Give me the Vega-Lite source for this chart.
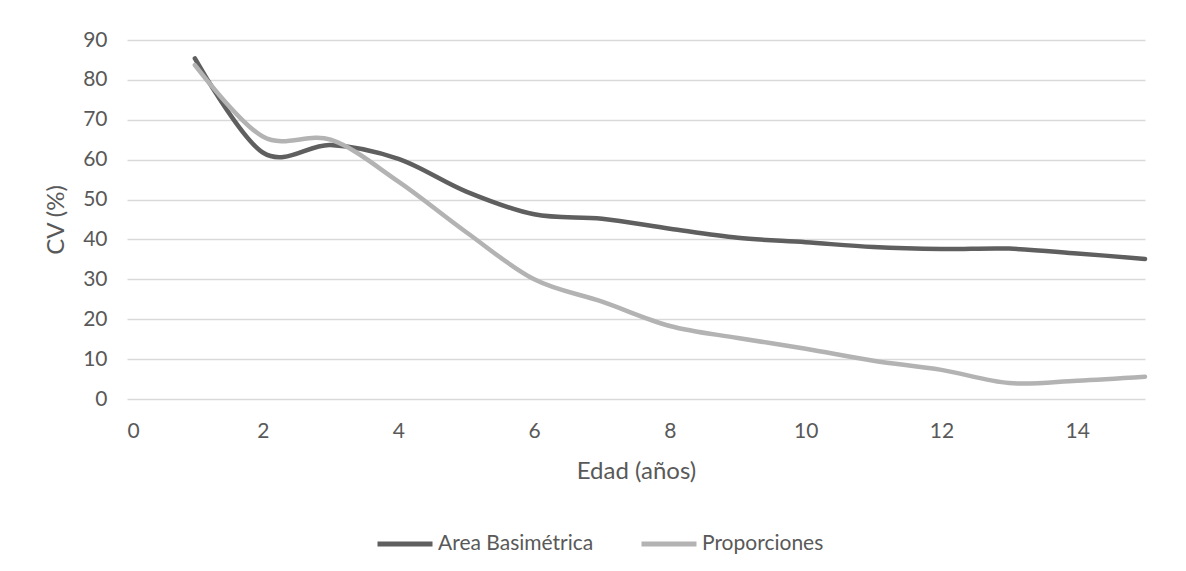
{
  "$schema": "https://vega.github.io/schema/vega-lite/v6.json",
  "width": 1018,
  "height": 359,
  "autosize": {"type": "none"},
  "padding": {"left": 127, "top": 40, "right": 41, "bottom": 172},
  "background": "white",
  "config": {
    "font": "Lato",
    "view": {"stroke": null},
    "axis": {
      "labelColor": "#595959",
      "titleColor": "#595959",
      "labelFont": "Lato",
      "titleFont": "Lato",
      "labelFontSize": 21,
      "titleFontSize": 24,
      "titleFontWeight": "normal",
      "ticks": false,
      "domain": false
    },
    "legend": {
      "labelColor": "#595959",
      "labelFont": "Lato",
      "labelFontSize": 21,
      "labelLimit": 400
    }
  },
  "data": {
    "values": [
      {"edad": 1, "serie": "Area Basimétrica", "cv": 85.4},
      {"edad": 2, "serie": "Area Basimétrica", "cv": 61.8},
      {"edad": 3, "serie": "Area Basimétrica", "cv": 63.7},
      {"edad": 4, "serie": "Area Basimétrica", "cv": 60.2},
      {"edad": 5, "serie": "Area Basimétrica", "cv": 52.0},
      {"edad": 6, "serie": "Area Basimétrica", "cv": 46.3},
      {"edad": 7, "serie": "Area Basimétrica", "cv": 45.2},
      {"edad": 8, "serie": "Area Basimétrica", "cv": 42.7},
      {"edad": 9, "serie": "Area Basimétrica", "cv": 40.4},
      {"edad": 10, "serie": "Area Basimétrica", "cv": 39.3},
      {"edad": 11, "serie": "Area Basimétrica", "cv": 38.1},
      {"edad": 12, "serie": "Area Basimétrica", "cv": 37.6},
      {"edad": 13, "serie": "Area Basimétrica", "cv": 37.7},
      {"edad": 14, "serie": "Area Basimétrica", "cv": 36.5},
      {"edad": 15, "serie": "Area Basimétrica", "cv": 35.1},
      {"edad": 1, "serie": "Proporciones", "cv": 83.7},
      {"edad": 2, "serie": "Proporciones", "cv": 65.8},
      {"edad": 3, "serie": "Proporciones", "cv": 65.0},
      {"edad": 4, "serie": "Proporciones", "cv": 54.5},
      {"edad": 5, "serie": "Proporciones", "cv": 41.8},
      {"edad": 6, "serie": "Proporciones", "cv": 30.0},
      {"edad": 7, "serie": "Proporciones", "cv": 24.4},
      {"edad": 8, "serie": "Proporciones", "cv": 18.3},
      {"edad": 9, "serie": "Proporciones", "cv": 15.3},
      {"edad": 10, "serie": "Proporciones", "cv": 12.6},
      {"edad": 11, "serie": "Proporciones", "cv": 9.6},
      {"edad": 12, "serie": "Proporciones", "cv": 7.3},
      {"edad": 13, "serie": "Proporciones", "cv": 4.0},
      {"edad": 14, "serie": "Proporciones", "cv": 4.6},
      {"edad": 15, "serie": "Proporciones", "cv": 5.6}
    ]
  },
  "mark": {
    "type": "line",
    "interpolate": "cardinal",
    "tension": 0,
    "strokeWidth": 4.5,
    "strokeCap": "round",
    "strokeJoin": "round"
  },
  "encoding": {
    "x": {
      "field": "edad",
      "type": "quantitative",
      "scale": {"domain": [0, 15], "nice": false, "zero": false},
      "axis": {
        "title": "Edad (años)",
        "values": [0, 2, 4, 6, 8, 10, 12, 14],
        "grid": false,
        "labelPadding": 21,
        "titlePadding": 18
      }
    },
    "y": {
      "field": "cv",
      "type": "quantitative",
      "scale": {"domain": [0, 90], "nice": false},
      "axis": {
        "title": "CV (%)",
        "values": [0, 10, 20, 30, 40, 50, 60, 70, 80, 90],
        "grid": true,
        "gridColor": "#d9d9d9",
        "gridWidth": 1.5,
        "labelPadding": 20,
        "titlePadding": 14
      }
    },
    "color": {
      "field": "serie",
      "type": "nominal",
      "scale": {
        "domain": ["Area Basimétrica", "Proporciones"],
        "range": ["#5f5f5f", "#b3b3b3"]
      },
      "legend": {
        "title": null,
        "orient": "none",
        "direction": "horizontal",
        "legendX": 248,
        "legendY": 474,
        "symbolType": "stroke",
        "symbolSize": 3025,
        "symbolStrokeWidth": 5,
        "labelOffset": 3,
        "columnPadding": 37,
        "padding": 0
      }
    }
  }
}
